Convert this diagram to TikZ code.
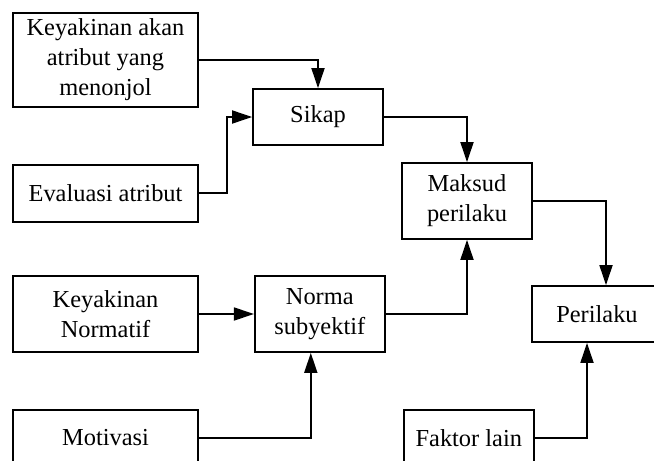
\documentclass[tikz,border=0pt]{standalone}
\usepackage{fontspec}
\setmainfont{Liberation Serif}
\usetikzlibrary{positioning,arrows.meta}

\begin{document}
\begin{tikzpicture}[x=0.5pt, y=-0.5pt,
    box/.style={rectangle, draw, line width=0.9pt, align=center, inner sep=2pt,
        font=\fontsize{12.2pt}{15pt}\selectfont},
    wide/.style={box, minimum width=92.5pt},
    narrow/.style={box, minimum width=65pt},
    arr/.style={-{Triangle[length=10pt, width=6.5pt]}, line width=0.9pt}]
    \useasboundingbox (0,0) rectangle (654,461);
    \clip (0,0) rectangle (654,461);

    \node[wide, minimum height=47pt] (keyakinan) at (105.5,60) {Keyakinan akan\\atribut yang\\menonjol};
    \node[wide, minimum height=28.5pt, below=28pt of keyakinan] (evaluasi) {Evaluasi atribut};
    \node[narrow, minimum height=28pt] (sikap) at (318,117) {Sikap};
    \node[narrow, minimum height=38pt] (maksud) at (467,201) {Maksud\\perilaku};
    \node[wide, minimum height=38pt] (normatif) at (105.5,314) {Keyakinan\\Normatif};
    \node[narrow, minimum height=38pt, right=27.5pt of normatif] (norma) {Norma\\subyektif};
    \node[narrow, minimum height=28pt] (perilaku) at (597,314) {Perilaku};
    \node[wide, minimum height=28pt, below=28pt of normatif] (motivasi) {Motivasi};
    \node[narrow, minimum height=28pt, right=102pt of motivasi] (faktor) {Faktor lain};

    \draw[arr] (keyakinan.east) -| (sikap.north);
    \draw[arr] (evaluasi.east) -- ++(28,0) |- (sikap.west);
    \draw[arr] (sikap.east) -| (maksud.north);
    \draw[arr] (maksud.east) -| ([xshift=4.5pt]perilaku.north);
    \draw[arr] (normatif) -- (norma);
    \draw[arr] (norma.east) -| (maksud.south);
    \draw[arr] (motivasi.east) -| ([xshift=-4.5pt]norma.south);
    \draw[arr] (faktor.east) -| ([xshift=-5pt]perilaku.south);
\end{tikzpicture}
\end{document}
